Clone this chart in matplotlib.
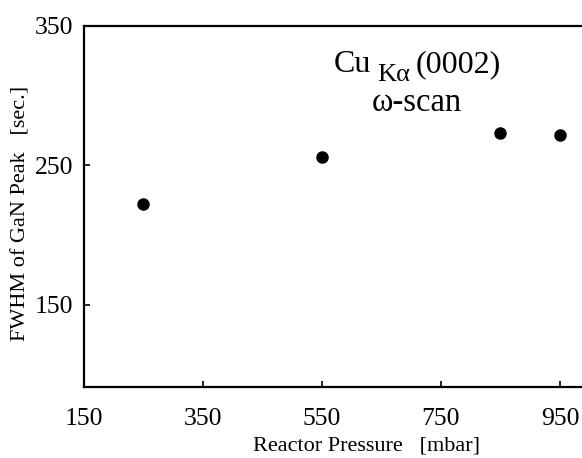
import matplotlib
matplotlib.use("Agg")
import matplotlib.pyplot as plt

# Data
pressure = [250, 550, 850, 950]          # mbar
fwhm = [222, 256, 273, 272]              # sec.
xticks = [150, 350, 550, 750, 950]
yticks = [150, 250, 350]

plt.rcParams['font.family'] = ['Liberation Serif', 'DejaVu Serif']

W, H = 582, 458
fig = plt.figure(figsize=(W / 100, H / 100), dpi=100)
ax = fig.add_axes([84 / W, 1 - 386.7 / H, 1 - 84 / W, (386.7 - 26) / H])

ax.plot(pressure, fwhm, 'o', color='black', markersize=8)

ax.set_xlim(150, 987)
ax.set_ylim(91, 350)
ax.set_xticks(xticks)
ax.set_yticks(yticks)
ax.tick_params(direction='in', length=4, width=1.2, labelsize=18.5)
ax.tick_params(axis='x', pad=15)
ax.tick_params(axis='y', pad=8)

for s in ['left', 'bottom', 'top']:
    ax.spines[s].set_linewidth(1.6)
ax.spines['right'].set_visible(False)

ax.set_xlabel('Reactor Pressure   [mbar]', fontsize=16)
ax.set_ylabel('FWHM of GaN Peak   [sec.]', fontsize=16)
ax.xaxis.set_label_coords(0.568, -0.137)
ax.yaxis.set_label_coords(-0.108, 0.48)

# annotation, placed in figure pixels
def px(x, y):
    return x / W, 1 - y / H

fig.text(*px(334, 72), 'Cu', fontsize=23, va='baseline')
fig.text(*px(377, 81), 'Kα', fontsize=19, va='baseline')
fig.text(*px(416, 72), '(0002)', fontsize=23, va='baseline')
fig.text(*px(417, 111), 'ω-scan', fontsize=23.5, va='baseline', ha='center')

fig.savefig('out.png', dpi=100)
